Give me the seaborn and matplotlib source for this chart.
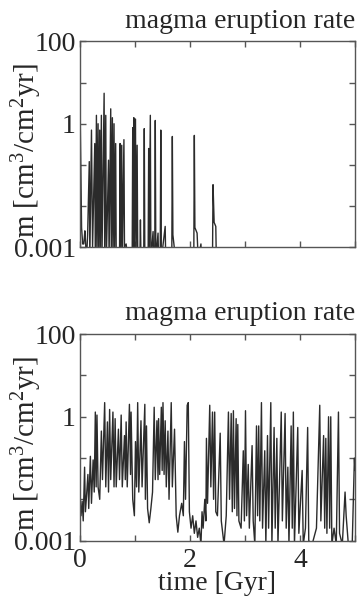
import numpy as np
import pandas as pd
import seaborn as sns
import matplotlib
matplotlib.use("Agg")
import matplotlib.pyplot as plt
from matplotlib.ticker import FixedLocator, FixedFormatter

# ---------------------------------------------------------
# Data
# values below 0.001 simply fall off the bottom of the axis
# ---------------------------------------------------------
top_t = [0.00, 0.03, 0.05, 0.07, 0.09, 0.10, 0.12, 0.14, 0.17, 0.18,
         0.21, 0.23, 0.27, 0.28, 0.30, 0.31, 0.33, 0.34, 0.36, 0.37,
         0.39, 0.40, 0.44, 0.45, 0.47, 0.48, 0.52, 0.53, 0.56, 0.57,
         0.59, 0.60, 0.62, 0.63, 0.65, 0.66, 0.72, 0.73, 0.74, 0.76,
         0.77, 0.80, 0.81, 0.84, 0.87, 0.95, 0.96, 0.97, 0.98, 0.99,
         1.01, 1.02, 1.04, 1.05, 1.09, 1.10, 1.11, 1.16, 1.17, 1.18,
         1.24, 1.25, 1.26, 1.28, 1.29, 1.33, 1.34, 1.36, 1.37, 1.38,
         1.42, 1.43, 1.46, 1.47, 1.48, 1.55, 1.56, 1.67, 1.68, 1.69,
         1.74, 2.07, 2.08, 2.09, 2.13, 2.15, 2.20, 2.21, 2.41, 2.42,
         2.44, 2.47, 2.48, 5.00]
top_m = [5.0, 0.003, 0.0012, 0.0012, 0.0025, 0.0015, 0.0005, 0.002, 0.12, 0.0005,
         0.7, 0.001, 0.33, 0.0005, 1.6, 0.001, 1.0, 0.0005, 0.7, 0.001,
         1.6, 0.0005, 5.5, 0.001, 1.6, 0.0005, 0.13, 0.0005, 2.3, 0.001,
         1.4, 0.0005, 1.0, 0.001, 0.33, 0.0005, 0.0005, 0.33, 0.0005, 0.3,
         0.0005, 0.41, 0.001, 0.0012, 0.0005, 0.0005, 0.8, 0.001, 1.4, 0.001,
         1.3, 0.0005, 0.3, 0.001, 0.0005, 0.0046, 0.0005, 0.0005, 0.76, 0.0005,
         0.0005, 0.25, 0.001, 1.6, 0.0005, 0.0024, 0.0005, 0.0005, 1.2, 0.0005,
         0.0022, 0.0005, 0.0005, 0.7, 0.0005, 0.0032, 0.0005, 0.0005, 0.49, 0.002,
         0.0005, 0.0005, 0.52, 0.003, 0.0022, 0.0005, 0.0012, 0.0005, 0.0005, 0.033,
         0.004, 0.0032, 0.0005, 0.0005]

bot_t = [0.00, 0.02, 0.04, 0.06, 0.085, 0.10, 0.12, 0.145, 0.16, 0.19,
         0.21, 0.24, 0.26, 0.28, 0.295, 0.31, 0.33, 0.36, 0.39, 0.41,
         0.45, 0.47, 0.50, 0.52, 0.54, 0.56, 0.60, 0.62, 0.64, 0.66,
         0.70, 0.72, 0.75, 0.77, 0.81, 0.825, 0.84, 0.86, 0.90, 0.92,
         0.93, 0.96, 0.99, 1.01, 1.03, 1.05, 1.07, 1.11, 1.13, 1.18,
         1.19, 1.21, 1.23, 1.26, 1.29, 1.32, 1.35, 1.37, 1.40, 1.42,
         1.43, 1.45, 1.48, 1.495, 1.51, 1.53, 1.55, 1.57, 1.60, 1.62,
         1.66, 1.68, 1.72, 1.75, 1.78, 1.81, 1.85, 1.88, 1.90, 1.92,
         1.95, 1.97, 1.99, 2.02, 2.05, 2.08, 2.11, 2.14, 2.17, 2.20,
         2.22, 2.24, 2.27, 2.29, 2.30, 2.32, 2.36, 2.38, 2.41, 2.43,
         2.45, 2.47, 2.50, 2.55, 2.57, 2.62, 2.66, 2.70, 2.72, 2.75,
         2.77, 2.79, 2.81, 2.84, 2.855, 2.87, 2.89, 2.93, 2.97, 2.99,
         3.01, 3.03, 3.06, 3.08, 3.13, 3.15, 3.18, 3.21, 3.23, 3.25,
         3.27, 3.30, 3.32, 3.36, 3.38, 3.41, 3.43, 3.47, 3.49, 3.53,
         3.55, 3.58, 3.60, 3.66, 3.68, 3.73, 3.75, 3.78, 3.80, 3.84,
         3.86, 3.88, 3.90, 3.96, 3.98, 4.04, 4.06, 4.10, 4.14, 4.16,
         4.22, 4.30, 4.36, 4.38, 4.43, 4.45, 4.47, 4.49, 4.52, 4.54,
         4.56, 4.58, 4.62, 4.66, 4.70, 4.72, 4.77, 4.82, 4.84, 4.88,
         4.95, 4.99, 5.00]
bot_m = [0.01, 0.004, 0.009, 0.003, 0.06, 0.005, 0.012, 0.04, 0.006, 0.11,
         0.008, 0.09, 0.015, 1.3, 0.02, 1.1, 0.02, 0.01, 0.45, 0.03,
         2.2, 0.02, 0.75, 0.015, 1.5, 0.03, 1.3, 0.02, 0.9, 0.02,
         0.5, 0.03, 1.1, 0.02, 0.35, 0.03, 0.75, 0.02, 2.0, 0.04,
         1.3, 0.01, 0.004, 0.25, 0.02, 2.2, 0.015, 0.8, 0.02, 2.0,
         0.01, 0.6, 0.006, 0.0027, 0.006, 0.015, 1.7, 0.03, 0.8, 0.03,
         0.9, 0.04, 1.7, 0.05, 2.2, 0.04, 0.8, 0.02, 0.45, 0.01,
         2.2, 0.02, 0.5, 0.004, 0.0016, 0.004, 0.008, 0.004, 0.25, 0.01,
         1.9, 2.2, 0.005, 0.002, 0.004, 0.0015, 0.003, 0.0012, 0.002, 0.0008,
         0.005, 0.002, 0.01, 0.003, 0.3, 0.008, 1.9, 0.02, 1.3, 0.01,
         1.3, 0.005, 0.004, 0.4, 0.003, 0.0008, 0.004, 1.3, 0.01, 1.2,
         0.005, 1.4, 0.006, 0.9, 0.004, 0.65, 0.003, 0.002, 0.15, 0.003,
         1.4, 0.004, 0.07, 0.002, 0.2, 0.003, 0.0008, 0.6, 0.004, 0.6,
         0.003, 2.2, 0.002, 0.15, 0.0008, 0.35, 0.002, 2.2, 0.0008, 0.55,
         0.002, 0.3, 0.0008, 1.3, 0.003, 1.2, 0.002, 0.06, 0.0008, 0.6,
         0.002, 1.3, 0.0008, 0.55, 0.0015, 0.05, 0.0008, 0.002, 0.55, 0.001,
         0.0008, 0.002, 1.9, 0.003, 0.35, 0.002, 0.3, 0.0015, 1.0, 0.002,
         1.0, 0.0008, 0.002, 0.0008, 1.3, 0.0015, 0.0008, 0.015, 0.004, 0.0008,
         0.0008, 0.1, 0.05]

title = "magma eruption rate"
ylabel = "m [cm$^3$/cm$^2$yr]"
xlabel = "time [Gyr]"
y_ticks = [0.001, 0.01, 0.1, 1, 10, 100]
y_ticklabels = ["0.001", "", "", "1", "", "100"]
x_ticks = [0, 1, 2, 3, 4, 5]
x_ticklabels = ["0", "", "2", "", "4", ""]

# ---------------------------------------------------------
# Style
# ---------------------------------------------------------
sns.set_theme(style="ticks")
plt.rcParams["font.family"] = ["Liberation Serif", "DejaVu Serif"]
plt.rcParams["mathtext.fontset"] = "custom"
plt.rcParams["mathtext.rm"] = "Liberation Serif"
plt.rcParams["mathtext.it"] = "Liberation Serif:italic"
FS = 20
LINE = "#2b2b2b"
SPINE = "#555555"

fig = plt.figure(figsize=(3.6, 6.0), dpi=100)
ax_top = fig.add_axes([0.222, 0.588, 0.764, 0.343])
ax_bot = fig.add_axes([0.222, 0.099, 0.764, 0.344])

panels = [(ax_top, top_t, top_m, False), (ax_bot, bot_t, bot_m, True)]
for ax, t, m, show_x in panels:
    df = pd.DataFrame({"t": t, "m": m})
    sns.lineplot(data=df, x="t", y="m", ax=ax, color=LINE, linewidth=1.0,
                 estimator=None, sort=False)
    ax.set_yscale("log")
    ax.set_ylim(0.001, 100)
    ax.set_xlim(0, 5)
    ax.yaxis.set_major_locator(FixedLocator(y_ticks))
    ax.yaxis.set_major_formatter(FixedFormatter(y_ticklabels))
    ax.yaxis.set_minor_locator(FixedLocator([]))
    ax.xaxis.set_major_locator(FixedLocator(x_ticks))
    if show_x:
        ax.xaxis.set_major_formatter(FixedFormatter(x_ticklabels))
        ax.set_xlabel(xlabel, fontsize=FS, labelpad=-1)
    else:
        ax.set_xticklabels([])
        ax.set_xlabel("")
    ax.tick_params(direction="in", top=True, right=True, length=4, width=1,
                   color=SPINE, labelsize=FS, pad=3)
    ax.tick_params(axis="x", pad=5)
    for s in ax.spines.values():
        s.set_color(SPINE)
        s.set_linewidth(1)
    ax.set_title(title, loc="right", fontsize=FS, pad=10)
    ax.set_ylabel(ylabel, fontsize=21)
    ax.yaxis.set_label_coords(-0.13, 0.47)

fig.savefig("out.png", dpi=100)
